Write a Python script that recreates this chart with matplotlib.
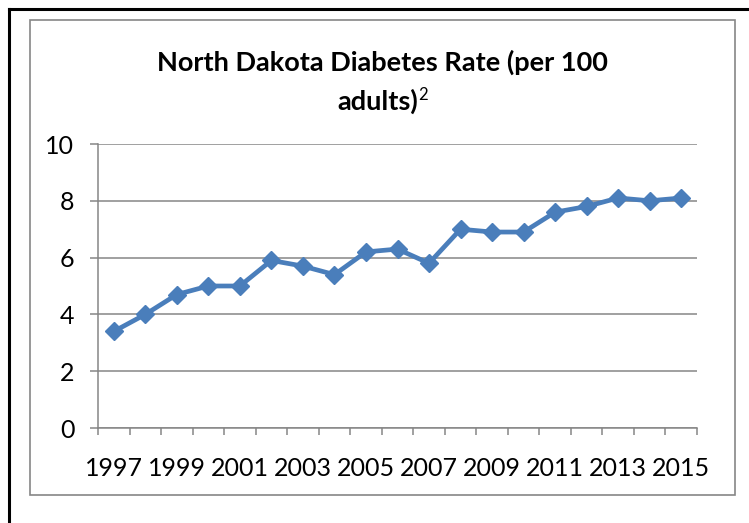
import matplotlib
matplotlib.use('Agg')
import matplotlib.pyplot as plt
from matplotlib.patches import Rectangle
from matplotlib.lines import Line2D

years = list(range(1997, 2016))
rates = [3.4, 4.0, 4.7, 5.0, 5.0, 5.9, 5.7, 5.4, 6.2, 6.3, 5.8, 7.0, 6.9, 6.9, 7.6, 7.8, 8.1, 8.0, 8.1]
year_labels = [str(y) for y in years[::2]]
y_ticks = [0, 2, 4, 6, 8, 10]

grid_col = '#868686'
line_col = '#4A7EBB'

plt.rcParams['font.family'] = ['Lato', 'DejaVu Sans']

W, H = 749, 523
fig = plt.figure(figsize=(W / 100, H / 100), dpi=100)

# outer black frame (top + left only) and gray chart box
fig.add_artist(Line2D([9 / W, 9 / W], [0, 1 - 9 / H], color='black', lw=2.2))
fig.add_artist(Line2D([9 / W, 1], [1 - 9 / H, 1 - 9 / H], color='black', lw=2.2))
fig.add_artist(Rectangle((30 / W, 1 - 495 / H), 705 / W, 475 / H, fill=False,
                         edgecolor=grid_col, lw=1.2))

ax = fig.add_axes([98 / W, 1 - 428 / H, 599 / W, 284 / H])
x = [i + 0.5 for i in range(len(years))]
ax.plot(x, rates, color=line_col, lw=3.4, marker='D', markersize=9.5,
        markerfacecolor=line_col, markeredgecolor=line_col, zorder=3)

ax.set_xlim(0, len(years))
ax.set_ylim(0, 10)
ax.set_yticks(y_ticks)
ax.set_yticklabels([str(v) for v in y_ticks])
ax.yaxis.grid(True, color=grid_col, lw=1.1)
ax.set_axisbelow(True)

ax.set_xticks(range(len(years) + 1))
ax.set_xticklabels([])
ax.set_xticks([i + 0.5 for i in range(0, len(years), 2)], minor=True)
ax.set_xticklabels(year_labels, minor=True)
ax.tick_params(axis='x', which='major', length=5, width=1.1, color=grid_col)
ax.tick_params(axis='x', which='minor', length=0, pad=21, labelsize=18)
ax.tick_params(axis='y', length=6, width=1.1, color=grid_col, pad=11, labelsize=18)

for s in ['top', 'right']:
    ax.spines[s].set_visible(False)
for s in ['left', 'bottom']:
    ax.spines[s].set_color(grid_col)
    ax.spines[s].set_linewidth(1.1)

# title: two lines, superscript 2 not bold
cx = 382.5 / W
fig.text(cx, 1 - 71 / H, 'North Dakota Diabetes Rate (per 100', ha='center',
         va='baseline', fontsize=19.5, fontweight='bold')
r = fig.canvas.get_renderer()
t1 = fig.text(0, 1 - 110 / H, 'adults)', ha='left', va='baseline',
              fontsize=19.5, fontweight='bold')
t2 = fig.text(0, 1 - 100 / H, '2', ha='left', va='baseline', fontsize=12)
w1 = t1.get_window_extent(r).width / W
w2 = t2.get_window_extent(r).width / W
t1.set_x(cx - (w1 + w2) / 2)
t2.set_x(cx - (w1 + w2) / 2 + w1)

fig.savefig('out.png', dpi=100)
